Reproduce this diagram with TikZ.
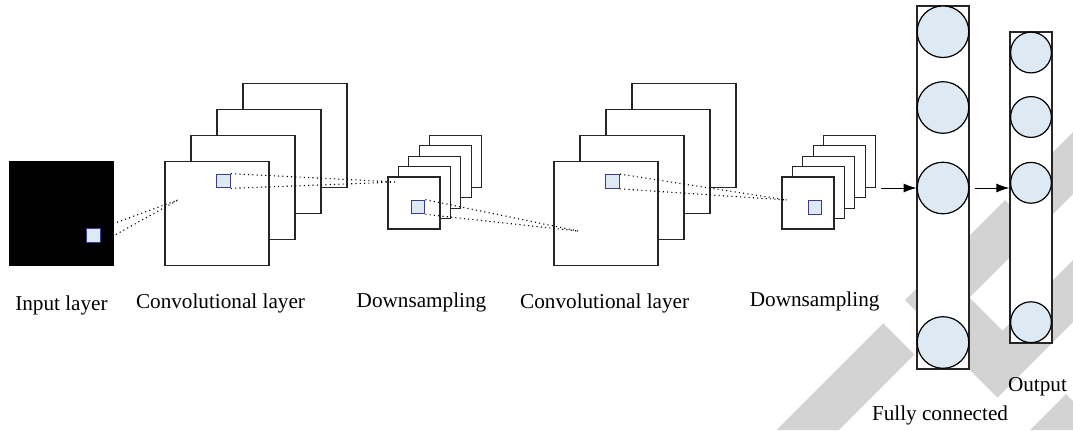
\documentclass[tikz,border=0pt]{standalone}
\usepackage{fontspec}
\setmainfont{Liberation Serif}
\usepackage{tikz}
\usetikzlibrary{arrows.meta}

\definecolor{cellblue}{RGB}{221,233,243}
\definecolor{patchline}{RGB}{60,60,150}
\definecolor{markgray}{RGB}{211,211,211}

\begin{document}
\begin{tikzpicture}[x=0.5pt,y=-0.5pt,
  fmap/.style={draw=black!85,fill=white,line width=0.6pt,minimum size=52pt,inner sep=0pt},
  pool/.style={fmap,minimum size=26pt},
  patch/.style={draw=patchline,fill=cellblue,line width=0.6pt,minimum size=6.75pt,inner sep=0pt},
  column/.style={draw=black!85,fill=white,line width=0.6pt,inner sep=0pt},
  unit/.style={circle,draw=black,fill=cellblue,line width=0.6pt,inner sep=0pt},
  link/.style={line width=0.55pt,dash pattern=on 0.55pt off 1.6pt},
  flow/.style={-{Latex[length=6.5pt,width=4.5pt]},line width=0.5pt},
  lbl/.style={anchor=base,font=\fontsize{10.6}{12}\selectfont,inner sep=0pt}]

\useasboundingbox (0,0) rectangle (1073,430);

% watermark stripes
\fill[markgray] (776.7,430) -- (883.3,323.3) -- (914.4,354.4) -- (838.8,430) -- cycle;
\fill[markgray] (905,300) -- (1005,200) -- (1036,231) -- (936,331) -- cycle;
\fill[markgray] (935,263) -- (1002.5,330.5) -- (1073,260) -- (1073,322)
  -- (997.5,397.5) -- (935,335) -- cycle;
\fill[markgray] (1030,430) -- (1066,394) -- (1073,401) -- (1073,430) -- cycle;
\fill[markgray] (1040,165) -- (1073,132) -- (1073,194) -- (1040,227) -- cycle;

% input
\node[fill=black,minimum size=52.5pt,inner sep=0pt] (input) at (61.5,213.5) {};
\node[patch] (pIn) at (93.5,235.5) {};

% first convolution and pooling
\foreach \k in {3,2,1,0}
  \node[fmap] (cA\k) at ({217+26*\k},{213.5-26*\k}) {};
\node[patch] (pA) at (223.5,181) {};
\foreach \k in {4,3,2,1,0}
  \node[pool] (dA\k) at ({414+10.4*\k},{203-10.4*\k}) {};
\node[patch] (pDA) at (418,207) {};

% second convolution and pooling
\foreach \k in {3,2,1,0}
  \node[fmap] (cB\k) at ({606+26*\k},{213.5-26*\k}) {};
\node[patch] (pB) at (612.5,181.5) {};
\foreach \k in {4,3,2,1,0}
  \node[pool] (dB\k) at ({808+10.4*\k},{203-10.4*\k}) {};
\node[patch] (pDB) at (815,207.5) {};

% receptive fields
\coordinate (hitA) at (178,200);
\coordinate (hitDA) at (397,182);
\coordinate (hitB) at (578,231);
\coordinate (hitDB) at (787,200);
\draw[link] (pIn.north east) -- (hitA) (pIn.south east) -- (hitA);
\draw[link] (pA.north east) -- (hitDA) (pA.south east) -- (hitDA);
\draw[link] (pDA.north east) -- (hitB) (pDA.south east) -- (hitB);
\draw[link] (pB.north east) -- (hitDB) (pB.south east) -- (hitDB);

% fully connected and output
\node[column,minimum width=26pt,minimum height=181.5pt] (fc) at (943,187.5) {};
\foreach \y [count=\i] in {31.7,107.5,188,342.5}
  \node[unit,minimum size=25.8pt] (fc\i) at (943,\y) {};
\node[column,minimum width=21pt,minimum height=155.5pt] (out) at (1031,187.5) {};
\foreach \y [count=\i] in {52.5,117,182.8,322.2}
  \node[unit,minimum size=20.4pt] (out\i) at (1031,\y) {};

\draw[flow] ([xshift=2.5pt]dB4.east |- fc3) -- (fc3.west);
\draw[flow] ([xshift=2.5pt]fc.east |- fc3) -- (out.west |- fc3);

% labels
\node[lbl] (lIn) at (61.5,310) {Input layer};
\node[lbl] (lCA) at (220.5,308.5) {Convolutional layer};
\node[lbl] (lDA) at (421.5,307) {Downsampling};
\node[lbl] (lCB) at (604.7,308) {Convolutional layer};
\node[lbl] (lDB) at (814.7,306) {Downsampling};
\node[lbl] (lOut) at (1037.5,391) {Output};
\node[lbl] (lFc) at (940,420) {Fully connected};
\end{tikzpicture}
\end{document}
